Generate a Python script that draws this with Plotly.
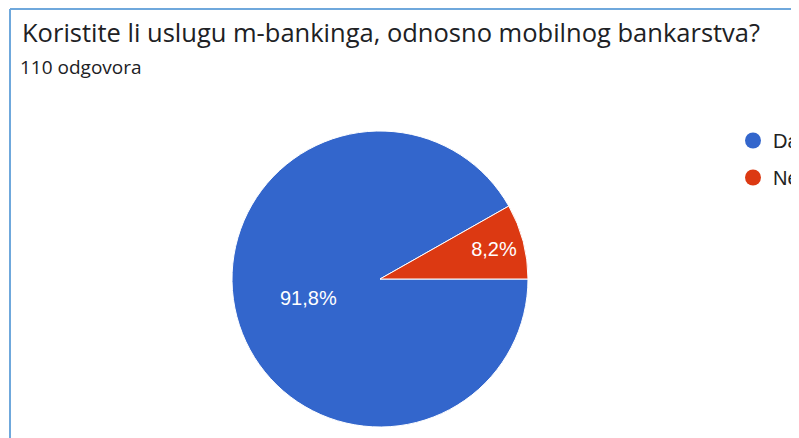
import plotly.graph_objects as go

# survey answers
labels = ["Da", "Ne"]
shares = [91.8, 8.2]
colors = ["#3366cc", "#dc3912"]

title_text = "Koristite li uslugu m-bankinga, odnosno mobilnog bankarstva?"
subtitle_text = "110 odgovora"

W, H = 799, 438
# the page body adds an 8px margin, so layout pixels are shifted by 8
OFF = 8

def px_x(v):
    return (v - OFF) / W

def px_y(v):
    return 1 - (v - OFF) / H

fig = go.Figure()

fig.add_trace(go.Pie(
    labels=labels,
    values=shares,
    sort=False,
    direction="clockwise",
    rotation=90,
    marker=dict(colors=colors, line=dict(color="white", width=1)),
    textinfo="percent",
    texttemplate="%{percent:.1%}",
    textposition="inside",
    insidetextorientation="horizontal",
    textfont=dict(color="white", size=20, family="Liberation Sans, Arial"),
    hoverinfo="label+percent",
    showlegend=False,
    domain=dict(x=[px_x(232), px_x(528)], y=[px_y(427), px_y(131)]),
))

# circle legend entries, google forms style
for lab, col in zip(labels, colors):
    fig.add_trace(go.Scatter(
        x=[None], y=[None], mode="markers", name=lab, legendgroup=lab,
        marker=dict(symbol="circle", size=16, color=col),
    ))

fig.update_layout(
    width=W, height=H,
    margin=dict(l=0, r=0, t=0, b=0, autoexpand=False),
    paper_bgcolor="white", plot_bgcolor="white",
    separators=",.",
    font=dict(family="Liberation Sans, Arial", color="#202124"),
    xaxis=dict(visible=False), yaxis=dict(visible=False),
    legend=dict(x=px_x(733), xanchor="left", y=px_y(121), yanchor="top",
                traceorder="grouped", tracegroupgap=8,
                font=dict(size=20, color="#222222"), bgcolor="rgba(0,0,0,0)"),
    showlegend=True,
)

fig.add_annotation(text=title_text, xref="paper", yref="paper", x=px_x(20), y=px_y(13),
                   xanchor="left", yanchor="top", showarrow=False,
                   font=dict(size=25.5, color="#202124", family="Open Sans"))
fig.add_annotation(text=subtitle_text, xref="paper", yref="paper", x=px_x(18), y=px_y(52),
                   xanchor="left", yanchor="top", showarrow=False,
                   font=dict(size=19, color="#202124", family="Open Sans"))

# card border (left and top edges)
fig.add_shape(type="line", xref="paper", yref="paper", x0=px_x(10), x1=px_x(10), y0=0, y1=px_y(9),
              line=dict(color="#6fa8dc", width=2))
fig.add_shape(type="line", xref="paper", yref="paper", x0=px_x(10), x1=1, y0=px_y(9), y1=px_y(9),
              line=dict(color="#6fa8dc", width=2))

fig.write_html("out.html")
